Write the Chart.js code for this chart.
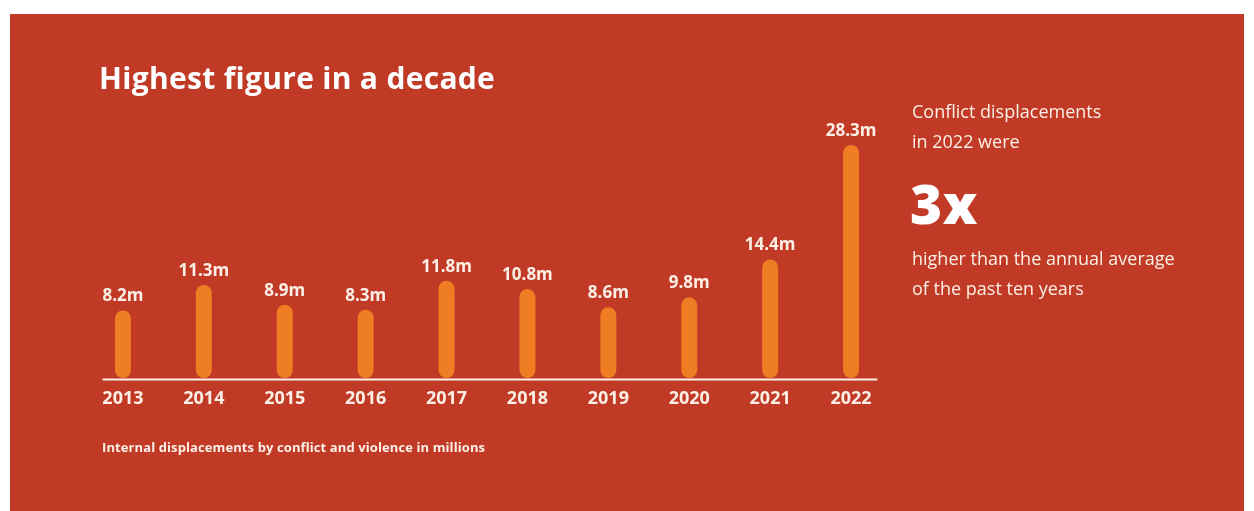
<!DOCTYPE html>
<html><head><meta charset="utf-8">
<script src="https://cdn.jsdelivr.net/npm/chart.js@4/dist/chart.umd.min.js"></script>
<style>
html,body{margin:0;padding:0;background:#fff;width:1254px;height:511px;overflow:hidden;font-family:"Open Sans",Lato,sans-serif;}
#panel{position:absolute;left:10px;top:14px;width:1234px;height:497px;background:#C03A26;}
#wrap{position:absolute;left:0;top:0;width:1254px;height:511px;}
.t{position:absolute;color:#FBEFE6;white-space:nowrap;}
#title{left:99px;top:57px;font-size:30px;font-weight:700;color:#fff;letter-spacing:0.3px;}
#foot{left:102px;top:438px;font-size:13px;font-weight:700;letter-spacing:0.1px;}
#s1{left:912px;top:99px;font-size:18px;}
#s2{left:912px;top:129px;font-size:18px;}
#big{left:910px;top:165px;font-size:55px;font-weight:800;color:#fff;letter-spacing:0.5px;}
#s3{left:912px;top:246px;font-size:18px;}
#s4{left:912px;top:276px;font-size:18px;}
</style></head>
<body>
<div id="panel"></div>
<div id="wrap"><canvas id="c" width="1254" height="511"></canvas></div>
<div class="t" id="title">Highest figure in a decade</div>
<div class="t" id="s1">Conflict displacements</div>
<div class="t" id="s2">in 2022 were</div>
<div class="t" id="big">3x</div>
<div class="t" id="s3">higher than the annual average</div>
<div class="t" id="s4">of the past ten years</div>
<div class="t" id="foot">Internal displacements by conflict and violence in millions</div>
<script>
const years = ["2013","2014","2015","2016","2017","2018","2019","2020","2021","2022"];
const displacements = [8.2, 11.3, 8.9, 8.3, 11.8, 10.8, 8.6, 9.8, 14.4, 28.3];
const valueLabels = ["8.2m","11.3m","8.9m","8.3m","11.8m","10.8m","8.6m","9.8m","14.4m","28.3m"];

const cream = "#FBEFE6";
const decor = {
  id: "decor",
  afterDatasetsDraw(chart) {
    const ctx = chart.ctx, a = chart.chartArea;
    ctx.save();
    ctx.strokeStyle = cream;
    ctx.lineWidth = 2;
    ctx.beginPath();
    ctx.moveTo(a.left + 20, a.bottom + 1.5);
    ctx.lineTo(a.right - 14, a.bottom + 1.5);
    ctx.stroke();
    ctx.fillStyle = cream;
    ctx.font = "700 17px 'Open Sans', Lato, sans-serif";
    ctx.textAlign = "center";
    ctx.textBaseline = "alphabetic";
    chart.getDatasetMeta(0).data.forEach((bar, i) => {
      ctx.fillText(valueLabels[i], bar.x, bar.y - 9);
    });
    ctx.restore();
  }
};

new Chart(document.getElementById("c"), {
  type: "bar",
  data: { labels: years, datasets: [{
    data: displacements,
    backgroundColor: "#EE7D23",
    barThickness: 16,
    borderRadius: 8,
    borderSkipped: false,
    inflateAmount: 0
  }]},
  options: {
    responsive: false,
    animation: false,
    devicePixelRatio: 1,
    layout: { padding: { left: 82.5, right: 362.5, top: 131, bottom: 93 } },
    plugins: { legend: { display: false }, tooltip: { enabled: false } },
    scales: {
      x: {
        grid: { display: false, drawTicks: false },
        border: { display: false },
        ticks: { color: cream, font: { family: "'Open Sans', Lato, sans-serif", size: 18, weight: "700" }, padding: 10 },
        afterFit(s) { s.height = 40; }
      },
      y: { display: false, min: 0, max: 30 }
    }
  },
  plugins: [decor]
});
</script>
</body></html>
